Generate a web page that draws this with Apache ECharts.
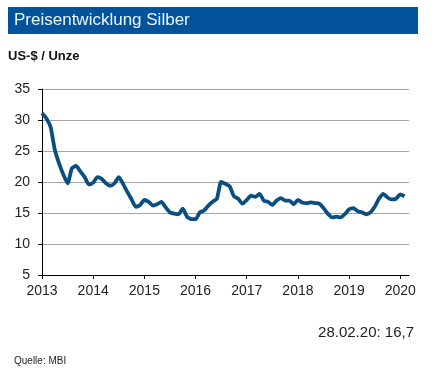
<!DOCTYPE html>
<html><head><meta charset="utf-8">
<script src="https://cdn.jsdelivr.net/npm/echarts@6/dist/echarts.min.js"></script>
<style>html,body{margin:0;padding:0;background:#fff;}#c{width:434px;height:376px;}</style>
</head><body><div id="c"></div>
<script>
const years = [2013, 2014, 2015, 2016, 2017, 2018, 2019, 2020];
const price2013 = [31.1, 30.3, 28.9, 25.2, 23.0, 21.2, 19.8, 22.2, 22.6, 21.7, 20.8, 19.6];
const price2014 = [19.9, 20.8, 20.5, 19.8, 19.4, 19.8, 20.8, 19.7, 18.4, 17.2, 16.0, 16.3];
const price2015 = [17.1, 16.8, 16.2, 16.4, 16.8, 15.9, 15.1, 14.9, 14.8, 15.7, 14.4, 14.0];
const price2016 = [14.0, 15.1, 15.4, 16.2, 16.8, 17.3, 20.0, 19.7, 19.3, 17.7, 17.3, 16.5];
const price2017 = [17.1, 17.8, 17.6, 18.1, 17.0, 16.8, 16.3, 17.0, 17.4, 17.0, 17.0, 16.4];
const price2018 = [17.1, 16.7, 16.6, 16.7, 16.6, 16.5, 15.8, 14.9, 14.3, 14.4, 14.3, 14.8];
const price2019 = [15.6, 15.8, 15.3, 15.1, 14.8, 15.1, 16.0, 17.3, 18.1, 17.5, 17.2, 17.3];
const price2020 = [18.0, 17.7];
const yTicks = [5, 10, 15, 20, 25, 30, 35];
const titleText = 'Preisentwicklung Silber';
const unitText = 'US-$ / Unze';
const lastText = '28.02.20: 16,7';
const sourceText = 'Quelle: MBI';

const perYear = [price2013, price2014, price2015, price2016, price2017, price2018, price2019, price2020];
const data = [];
perYear.forEach((arr, yi) => arr.forEach((v, m) => data.push([years[yi] + m / 12, v])));

const chart = echarts.init(document.getElementById('c'), null, {renderer: 'canvas'});
chart.setOption({
  animation: false,
  backgroundColor: '#fff',
  graphic: [
    {type: 'rect', shape: {x: 8, y: 7, width: 410, height: 27}, style: {fill: '#03539A'}},
    {type: 'text', left: 14, top: 12, style: {text: titleText, fill: '#E8F6FF', font: '17px "Liberation Sans", Arial, sans-serif'}},
    {type: 'text', left: 8, top: 50, style: {text: unitText, fill: '#111', font: 'bold 13px "Liberation Sans", Arial, sans-serif'}},
    {type: 'text', right: 20, top: 325, style: {text: lastText, fill: '#222', font: '15px "Liberation Sans", Arial, sans-serif'}},
    {type: 'text', left: 14, top: 356, style: {text: sourceText, fill: '#222', font: '10px "Liberation Sans", Arial, sans-serif'}}
  ],
  grid: {left: 42, top: 89, right: 25, bottom: 101, containLabel: false},
  xAxis: {
    type: 'value', min: 2013, max: 2020.17, interval: 1,
    axisLine: {show: true, lineStyle: {color: '#000', width: 1}},
    axisTick: {show: true, length: 4, lineStyle: {color: '#000'}},
    splitLine: {show: false},
    axisLabel: {showMaxLabel: false, color: '#222', fontSize: 14, fontFamily: '"Liberation Sans", Arial, sans-serif', margin: 9,
      formatter: v => years.includes(Math.round(v)) && Math.abs(v - Math.round(v)) < 1e-6 ? String(Math.round(v)) : ''}
  },
  yAxis: {
    type: 'value', min: yTicks[0], max: yTicks[yTicks.length - 1], interval: 5,
    axisLine: {show: true, lineStyle: {color: '#000', width: 1}},
    axisTick: {show: true, length: 4, lineStyle: {color: '#000'}},
    splitLine: {show: true, lineStyle: {color: '#A6A6A6', width: 1}},
    axisLabel: {color: '#222', fontSize: 14, fontFamily: '"Liberation Sans", Arial, sans-serif', margin: 12}
  },
  series: [{
    type: 'line', data: data, showSymbol: false, smooth: 0.2,
    lineStyle: {color: '#0B4F80', width: 3.8},
    z: 3
  }]
});
</script></body></html>
